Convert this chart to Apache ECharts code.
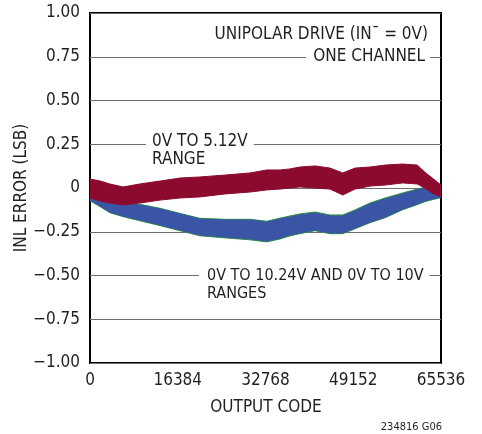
<!DOCTYPE html>
<html><head><meta charset="utf-8">
<script src="https://cdn.jsdelivr.net/npm/echarts@6/dist/echarts.min.js"></script>
<style>html,body{margin:0;padding:0;background:#fff}#c{width:482px;height:434px}</style>
</head><body><div id="c"></div>
<script>
// ---- data ----
var codes = [0, 1900, 3700, 6200, 9300, 13100, 16800, 20500, 25200, 29900, 33000, 35500, 37300, 39200, 42000, 44800, 47200, 49500, 52300, 55100, 58400, 61100, 62500, 63900, 65536];
// 0V to 5.12V range (red band envelope)
var red512Upper = [0.051, 0.040, 0.023, 0.006, 0.023, 0.040, 0.057, 0.063, 0.074, 0.086, 0.103, 0.103, 0.109, 0.120, 0.126, 0.114, 0.086, 0.114, 0.120, 0.131, 0.137, 0.131, 0.091, 0.057, 0.017];
var red512Lower = [-0.057, -0.074, -0.086, -0.097, -0.086, -0.069, -0.057, -0.051, -0.034, -0.023, -0.011, -0.006, 0.000, 0.006, 0.000, -0.006, -0.040, -0.006, 0.011, 0.017, 0.029, 0.023, 0.000, -0.029, -0.051];
// 0V to 10.24V range (blue band envelope)
var blue1024Upper = [-0.023, -0.057, -0.080, -0.091, -0.097, -0.120, -0.149, -0.177, -0.183, -0.183, -0.194, -0.177, -0.166, -0.154, -0.143, -0.160, -0.160, -0.131, -0.091, -0.063, -0.034, -0.011, 0.000, 0.000, -0.006];
var blue1024Lower = [-0.069, -0.103, -0.137, -0.160, -0.183, -0.211, -0.240, -0.269, -0.280, -0.291, -0.303, -0.286, -0.269, -0.257, -0.240, -0.257, -0.257, -0.229, -0.194, -0.166, -0.120, -0.091, -0.074, -0.063, -0.051];
// 0V to 10V range (green band envelope)
var green10Upper = [-0.019, -0.053, -0.076, -0.087, -0.093, -0.116, -0.145, -0.173, -0.179, -0.179, -0.190, -0.172, -0.160, -0.148, -0.137, -0.154, -0.154, -0.125, -0.085, -0.057, -0.028, -0.006, 0.004, 0.004, -0.002];
var green10Lower = [-0.073, -0.107, -0.141, -0.164, -0.187, -0.215, -0.244, -0.273, -0.285, -0.296, -0.308, -0.291, -0.274, -0.261, -0.244, -0.261, -0.261, -0.233, -0.198, -0.170, -0.124, -0.095, -0.078, -0.067, -0.055];
var xTickLabels = ['0', '16384', '32768', '49152', '65536'];
var yTickLabels = ['\u22121.00', '\u22120.75', '\u22120.50', '\u22120.25', '0', '0.25', '0.50', '0.75', '1.00'];

var FONT = '"Liberation Sans Narrow", "DejaVu Sans Condensed", "Roboto Condensed", sans-serif';
var TXT = '#231f20';

function band(name, up, lo, color) {
  // one data row per code: [code, upper, lower]
  var rows = codes.map(function (c, i) { return [c, up[i], lo[i]]; });
  return {
    type: 'custom', name: name, data: rows, clip: true, silent: true,
    encode: { x: 0, y: [1, 2] },
    renderItem: function (params, api) {
      if (params.dataIndex !== 0) return null;
      var top = [], bot = [];
      for (var i = 0; i < rows.length; i++) {
        top.push(api.coord([rows[i][0], rows[i][1]]));
        bot.push(api.coord([rows[i][0], rows[i][2]]));
      }
      var pts = top.concat(bot.reverse());
      return { type: 'polygon', shape: { points: pts },
        style: { fill: color, stroke: color, lineWidth: 1 } };
    }
  };
}

var chart = echarts.init(document.getElementById('c'), null, { renderer: 'canvas' });
var option = {
  animation: false,
  grid: { left: 90, right: 41, top: 13, bottom: 71, show: true, borderColor: '#000', borderWidth: 2, backgroundColor: 'transparent' },
  xAxis: {
    type: 'value', min: 0, max: 65536, interval: 16384,
    axisLine: { show: false }, axisTick: { show: false }, splitLine: { show: false },
    axisLabel: { margin: 9, color: TXT, fontFamily: FONT, fontSize: 17,
      formatter: function (v) { return xTickLabels[Math.round(v / 16384)]; } }
  },
  yAxis: {
    type: 'value', min: -1, max: 1, interval: 0.25,
    axisLine: { show: false }, axisTick: { show: false },
    splitLine: { show: true, lineStyle: { color: '#6d6e71', width: 1 } },
    axisLabel: { margin: 10, color: TXT, fontFamily: FONT, fontSize: 17,
      formatter: function (v) { return yTickLabels[Math.round((v + 1) / 0.25)]; } }
  },
  series: [
    band('0V TO 10V', green10Upper, green10Lower, '#2f8f46'),
    band('0V TO 10.24V', blue1024Upper, blue1024Lower, '#3a55a6'),
    band('0V TO 5.12V', red512Upper, red512Lower, '#8c0a2e')
  ],
  graphic: [
    { type: 'text', x: 22, y: 188, rotation: Math.PI / 2,
      style: { text: 'INL ERROR (LSB)', fill: TXT, font: '17px ' + FONT, textAlign: 'center', textVerticalAlign: 'middle' } },
    { type: 'text', x: 266, y: 408,
      style: { text: 'OUTPUT CODE', fill: TXT, font: '17px ' + FONT, textAlign: 'center', textVerticalAlign: 'middle' } },
    { type: 'text', x: 442, y: 427,
      style: { text: '234816 G06', fill: TXT, font: '11px ' + FONT, textAlign: 'right', textVerticalAlign: 'middle' } },
    { type: 'text', x: 428, y: 35, z: 10,
      style: { text: 'UNIPOLAR DRIVE (IN\u00AF = 0V)', fill: TXT, font: '17px ' + FONT, textAlign: 'right', textVerticalAlign: 'middle' } },
    { type: 'text', x: 430, y: 57, z: 10,
      style: { text: 'ONE CHANNEL', fill: TXT, font: '17px ' + FONT, textAlign: 'right', textVerticalAlign: 'middle',
        backgroundColor: '#fff', padding: [0, 5, 0, 7] } },
    { type: 'text', x: 146, y: 142, z: 10,
      style: { text: '0V TO 5.12V', fill: TXT, font: '17px ' + FONT, textAlign: 'left', textVerticalAlign: 'middle',
        backgroundColor: '#fff', padding: [0, 6, 0, 6] } },
    { type: 'text', x: 152, y: 160, z: 10,
      style: { text: 'RANGE', fill: TXT, font: '17px ' + FONT, textAlign: 'left', textVerticalAlign: 'middle' } },
    { type: 'text', x: 199, y: 276, z: 10,
      style: { text: '0V TO 10.24V AND 0V TO 10V', fill: TXT, font: '16px ' + FONT, textAlign: 'left', textVerticalAlign: 'middle',
        backgroundColor: '#fff', padding: [0, 6, 0, 8] } },
    { type: 'text', x: 207, y: 294, z: 10,
      style: { text: 'RANGES', fill: TXT, font: '16px ' + FONT, textAlign: 'left', textVerticalAlign: 'middle' } }
  ]
};
chart.setOption(option);
</script></body></html>
